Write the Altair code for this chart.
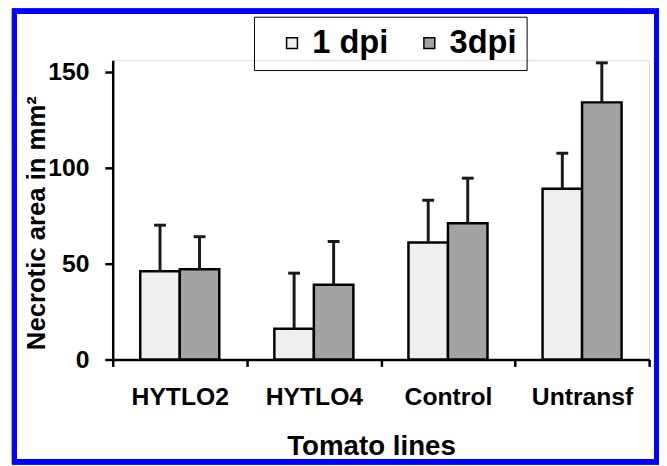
import altair as alt
import pandas as pd

lines = ["HYTLO2", "HYTLO4", "Control", "Untransf"]
series = ["1 dpi", "3dpi"]
dpi1_values = [46, 16, 61, 89]
dpi3_values = [47, 39, 71, 134]
dpi1_err = [24, 29, 22, 18.5]
dpi3_err = [17, 22.5, 23.5, 20.6]
y_ticks = [0, 50, 100, 150]
colors = ["#efefef", "#a3a3a3"]

rows = []
for i, ln in enumerate(lines):
    rows.append({"Line": ln, "Time": series[0], "value": dpi1_values[i], "upper": dpi1_values[i] + dpi1_err[i]})
    rows.append({"Line": ln, "Time": series[1], "value": dpi3_values[i], "upper": dpi3_values[i] + dpi3_err[i]})
df = pd.DataFrame(rows)

FONT = "Liberation Sans"

x_scale = alt.Scale(domain=lines, paddingInner=0, paddingOuter=0)
xo_scale = alt.Scale(domain=series, paddingInner=0, paddingOuter=0.697)
y_scale = alt.Scale(domain=[0, 156], nice=False)

x_enc = alt.X(
    "Line:N",
    sort=lines,
    scale=x_scale,
    axis=alt.Axis(
        title="Tomato lines",
        titleFontSize=28,
        titleFont=FONT,
        titleFontWeight="bold",
        titleColor="black",
        titleX=261.5,
        titleY=96,
        titleAlign="center",
        titleBaseline="alphabetic",
        labelAngle=0,
        labelFontSize=25,
        labelFont=FONT,
        labelFontWeight="bold",
        labelColor="black",
        labelBaseline="alphabetic",
        labelPadding=39,
        tickBand="extent",
        tickSize=7,
        tickWidth=2.5,
        tickColor="black",
        domainColor="black",
        domainWidth=2.5,
    ),
)
xo_enc = alt.XOffset("Time:N", sort=series, scale=xo_scale)
y_enc = alt.Y(
    "value:Q",
    scale=y_scale,
    axis=alt.Axis(
        values=y_ticks,
        title="Necrotic area in mm²",
        titleFontSize=26,
        titleFont=FONT,
        titleFontWeight="bold",
        titleColor="black",
        titleAngle=-90,
        titleX=-69,
        titleY=164.5,
        titleAlign="center",
        titleBaseline="alphabetic",
        labelFontSize=25,
        labelFont=FONT,
        labelFontWeight="bold",
        labelColor="black",
        labelPadding=16,
        tickSize=8,
        tickWidth=2.5,
        tickColor="black",
        domainColor="black",
        domainWidth=2.5,
        grid=False,
    ),
)

bars = alt.Chart(df).mark_bar(stroke="black", strokeWidth=2.5).encode(
    x=x_enc,
    xOffset=xo_enc,
    y=y_enc,
    color=alt.Color(
        "Time:N",
        sort=series,
        scale=alt.Scale(domain=series, range=colors),
        legend=alt.Legend(
            title=None,
            orient="none",
            legendX=143,
            legendY=-44,
            direction="horizontal",
            symbolType="square",
            symbolSize=121,
            symbolStrokeColor="black",
            symbolStrokeWidth=1.5,
            symbolOffset=12,
            labelFontSize=33,
            labelFont=FONT,
            labelFontWeight="bold",
            labelColor="black",
            labelOffset=4,
            columnPadding=12,
            padding=10,
            strokeColor="black",
        ),
    ),
)

rules = alt.Chart(df).mark_rule(strokeWidth=3, color="#1a1a1a").encode(
    x=alt.X("Line:N", sort=lines, scale=x_scale),
    xOffset=alt.XOffset("Time:N", sort=series, scale=xo_scale),
    y=alt.Y("value:Q", scale=y_scale),
    y2="upper:Q",
)

caps = alt.Chart(df).mark_tick(thickness=3, size=12, color="#1a1a1a", opacity=1).encode(
    x=alt.X("Line:N", sort=lines, scale=x_scale),
    xOffset=alt.XOffset("Time:N", sort=series, scale=xo_scale),
    y=alt.Y("upper:Q", scale=y_scale),
)

border = alt.Chart(df).mark_rect(filled=False, stroke="#0000ff", strokeWidth=5).encode(
    x=alt.value(-99.5),
    x2=alt.value(550.5),
    y=alt.value(-49.5),
    y2=alt.value(406.5),
)

chart = (
    alt.layer(bars, rules, caps, border)
    .properties(
        width=543,
        height=303,
        autosize=alt.AutoSizeParams(type="none"),
        padding={"left": 106, "top": 50, "right": 10, "bottom": 105},
        background="white",
    )
    .configure_view(stroke=None)
    .configure_legend(strokeWidth=2.5)
    .configure(font=FONT)
)

chart.save("out.html", embed_options={"renderer": "svg", "actions": False})
